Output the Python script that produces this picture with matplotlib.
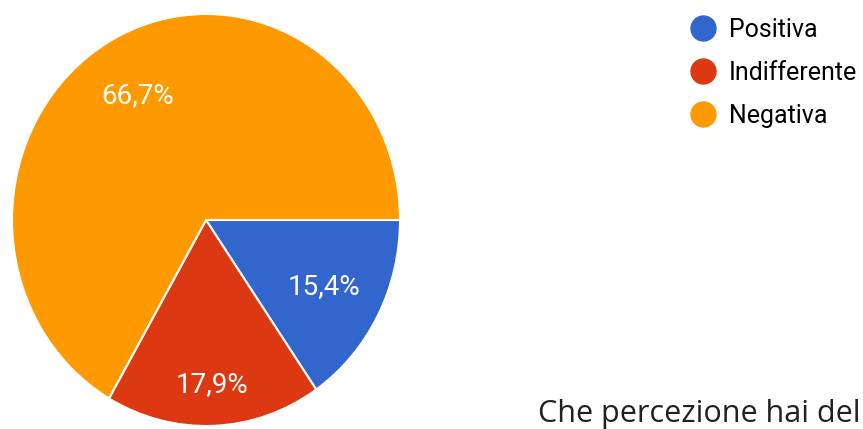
import matplotlib
matplotlib.use('Agg')
import matplotlib.pyplot as plt
from matplotlib.lines import Line2D
import numpy as np

labels = ['Positiva', 'Indifferente', 'Negativa']
counts = [6, 7, 26]
colors = ['#3366CC', '#DC3912', '#FF9900']
label_dist = [0.69, 0.80, 0.70]
title = 'Che percezione hai del'

plt.rcParams['font.family'] = ['Roboto', 'DejaVu Sans']

fig = plt.figure(figsize=(8.63, 4.29), dpi=100)
# pie area in pixels: x 12..400, y top 14, radius ~206 px vertically
ax = fig.add_axes([12 / 863, (429 - 426) / 429, 388 / 863, 412 / 429])
wedges, _ = ax.pie(counts, colors=colors, startangle=0, counterclock=False,
                   wedgeprops=dict(edgecolor='white', linewidth=1.5),
                   radius=1)
ax.set_aspect('auto')
ax.set_xlim(-1, 1)
ax.set_ylim(-1, 1)
ax.axis('off')

total = sum(counts)
for w, c, d in zip(wedges, counts, label_dist):
    ang = np.deg2rad((w.theta1 + w.theta2) / 2)
    txt = f'{100 * c / total:.1f}'.replace('.', ',') + '%'
    ax.text(d * np.cos(ang), d * np.sin(ang), txt, color='white',
            fontsize=20, ha='center', va='center')

handles = [Line2D([], [], marker='o', linestyle='', markersize=18,
                  markerfacecolor=col, markeredgecolor=col) for col in colors]
fig.legend(handles, labels, loc='upper left',
           bbox_to_anchor=(675 / 863, 1 - 3 / 429),
           frameon=False, fontsize=18, handletextpad=0.54,
           labelspacing=0.75, handlelength=1.0, borderaxespad=0.2)

fig.text(538 / 863, (429 - 422) / 429, title, fontsize=22, color='#202124',
         ha='left', va='baseline', family=['Open Sans', 'DejaVu Sans'])

fig.savefig('out.png', dpi=100)
